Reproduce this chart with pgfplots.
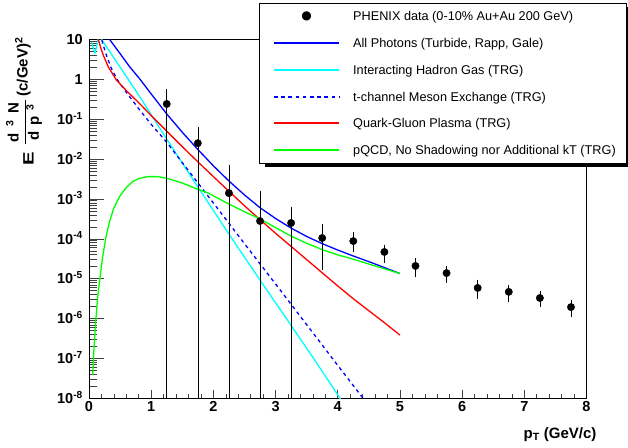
\documentclass[border=0pt]{standalone}
\usepackage{fontspec}
\setmainfont{Liberation Sans}
\newfontfamily\symfont{DejaVu Sans}
\usepackage{pgfplots}
\pgfplotsset{compat=1.18}

\definecolor{rblue}{RGB}{0,0,255}
\definecolor{rcyan}{RGB}{0,255,255}
\definecolor{rred}{RGB}{255,0,0}
\definecolor{rgreen}{RGB}{0,255,0}

\newcommand\tickfont{\fontsize{14.5}{16}\selectfont\bfseries}
\newcommand\legfont{\fontsize{12.7}{14}\selectfont}
\newcommand\labfont{\fontsize{15}{17}\selectfont\bfseries}

\pgfplotsset{
  curve/.style={line width=1.3pt, forget plot},
}

\begin{document}
\begin{tikzpicture}
\begin{axis}[
  width=497.5pt, height=359.2pt, scale only axis,
  xmin=0, xmax=8, ymode=log, ymin=1e-8, ymax=10,
  axis line style={black, line width=0.8pt},
  tick pos=left, tick align=inside,
  xtick={0,1,...,8}, minor x tick num=4,
  ytick={1e-8,1e-7,1e-6,1e-5,1e-4,1e-3,1e-2,1e-1,1,10},
  yticklabels={10\textsuperscript{-8},10\textsuperscript{-7},10\textsuperscript{-6},10\textsuperscript{-5},10\textsuperscript{-4},10\textsuperscript{-3},10\textsuperscript{-2},10\textsuperscript{-1},1,10},
  xtick style={black!75, line width=0.6pt, /pgfplots/major tick length=9pt, /pgfplots/minor tick length=4.5pt},
  ytick style={black!75, line width=0.6pt, /pgfplots/major tick length=15pt, /pgfplots/minor tick length=8pt},
  /pgf/number format/assume math mode=true,
  xticklabel style={font=\tickfont, inner sep=0pt, yshift=-3pt},
  yticklabel style={font=\tickfont, inner sep=0pt, anchor=east, xshift=-6pt, text height=10.4pt, text depth=0pt},
  xlabel={p\textsubscript{T} (GeV/c)},
  xlabel style={at={(axis description cs:0.9467,-0.1108)}, anchor=base, font=\labfont},
  ylabel={\scalebox{1.35}[1]{E}\hspace{8pt}\raisebox{5pt}{\setlength\arrayrulewidth{1.2pt}\begin{tabular}{@{\hspace{2pt}}c@{\hspace{2pt}}}\makebox[40pt][s]{d\hfill\textsuperscript{3}\hfill N}\\[1pt]\hline\rule{0pt}{13pt}\makebox[36pt][s]{d\hfill p\hfill\textsuperscript{3}}\end{tabular}}\hspace{4pt}\raisebox{6pt}{(c/GeV)\textsuperscript{2}}},
  ylabel style={at={(axis description cs:-0.1286,0.826)}, anchor=center, font=\labfont},
]

% all photons
\addplot[rblue, curve] table {
x y
0.20 17.8
0.33 10.0
0.50 4.37
0.65 2.09
0.82 1.00
1.00 0.427
1.25 0.135
1.50 0.0468
1.75 0.0174
2.00 6.76e-3
2.25 2.82e-3
2.50 1.26e-3
2.75 6.03e-4
3.00 3.24e-4
3.25 1.86e-4
3.50 1.15e-4
3.75 7.59e-5
4.00 5.25e-5
4.25 3.72e-5
4.50 2.69e-5
4.75 1.91e-5
5.00 1.35e-5
};

% hadron gas
\addplot[rcyan, curve] table {
x y
0.04 8.51
0.07 6.03
0.095 4.57
0.12 6.31
0.15 10.5
0.175 12.0
0.20 10.0
0.30 5.89
0.50 2.00
0.75 0.525
1.00 0.129
1.25 0.0316
1.50 7.94e-3
1.75 2.00e-3
2.00 5.13e-4
2.25 1.32e-4
2.50 3.47e-5
2.75 9.33e-6
3.00 2.51e-6
3.25 6.76e-7
3.50 1.82e-7
3.75 4.79e-8
4.00 1.23e-8
4.10 7.08e-9
};

% t-channel meson exchange
\addplot[rblue, curve, dash pattern=on 3.5pt off 3.5pt] table {
x y
0.18 14.1
0.22 7.94
0.28 3.98
0.36 1.86
0.45 1.00
0.60 0.468
0.80 0.182
1.00 0.0741
1.25 0.0263
1.50 8.13e-3
2.00 7.94e-4
2.50 7.59e-5
3.00 7.41e-6
3.50 7.08e-7
4.00 6.76e-8
4.45 8.32e-9
};

% QGP
\addplot[rred, curve] table {
x y
0.12 20.0
0.15 10.0
0.19 6.03
0.23 3.98
0.31 2.04
0.44 0.955
0.61 0.501
0.82 0.240
1.00 0.123
1.25 0.0501
1.50 0.0204
1.75 8.51e-3
2.00 3.63e-3
2.25 1.55e-3
2.50 6.76e-4
2.75 3.02e-4
3.00 1.38e-4
3.25 6.46e-5
3.50 3.02e-5
3.75 1.41e-5
4.00 6.61e-6
4.25 3.16e-6
4.50 1.58e-6
4.75 7.94e-7
5.00 3.89e-7
};

% pQCD
\addplot[rgreen, curve] table {
x y
0.06 3.89e-8
0.08 1.78e-7
0.11 9.33e-7
0.14 3.55e-6
0.18 1.17e-5
0.22 3.55e-5
0.27 1.05e-4
0.33 2.69e-4
0.40 6.03e-4
0.50 1.20e-3
0.60 1.95e-3
0.70 2.69e-3
0.80 3.24e-3
0.95 3.63e-3
1.10 3.63e-3
1.25 3.31e-3
1.50 2.51e-3
1.75 1.74e-3
1.90 1.45e-3
2.00 1.20e-3
2.25 7.41e-4
2.50 4.79e-4
2.75 3.16e-4
3.00 1.91e-4
3.25 1.17e-4
3.50 7.76e-5
3.75 5.37e-5
4.00 3.98e-5
4.25 3.09e-5
4.50 2.34e-5
4.75 1.78e-5
5.00 1.35e-5
};

% lower halves of the large error bars (run below the axis)
\addplot[black, line width=0.6pt, forget plot] coordinates {(1.25,1e-9) (1.25,0.24)};
\addplot[black, line width=0.6pt, forget plot] coordinates {(1.75,1e-9) (1.75,0.025)};
\addplot[black, line width=0.6pt, forget plot] coordinates {(2.25,1e-9) (2.25,1.4e-3)};
\addplot[black, line width=0.6pt, forget plot] coordinates {(2.75,1e-9) (2.75,2.8e-4)};
\addplot[black, line width=0.6pt, forget plot] coordinates {(3.25,1e-9) (3.25,2.5e-4)};

% PHENIX data
\addplot[black, only marks, mark=*, mark size=3.7pt, forget plot,
  error bars/.cd, y dir=both, y explicit,
  error bar style={black, line width=0.6pt},
  error mark options={black, mark size=2.5pt, line width=0.6pt}]
  table[x=x, y=y, y error plus=ep, y error minus=em] {
x y ep em
1.25 0.24 0.26 0
1.75 0.025 0.029 0
2.25 1.4e-3 4.9e-3 0
2.75 2.8e-4 1.12e-3 0
3.25 2.5e-4 3.1e-4 0
3.75 1.05e-4 0.95e-4 0.86e-4
4.25 8.8e-5 3.7e-5 3.3e-5
4.75 4.7e-5 1.5e-5 1.75e-5
5.25 2.1e-5 0.7e-5 0.8e-5
5.75 1.39e-5 0.47e-5 0.46e-5
6.25 5.9e-6 2.4e-6 2.2e-6
6.75 4.7e-6 1.2e-6 1.6e-6
7.25 3.3e-6 1.1e-6 1.0e-6
7.75 1.95e-6 0.65e-6 0.65e-6
};
\end{axis}

% legend box (ROOT style, with shadow), laid out in pt from the axis corner
\begin{scope}[shift={(current axis.south west)}, x=1pt, y=1pt]
  \fill[black] (176,231.5) rectangle (543,235.5);
  \fill[black] (537,231.5) rectangle (543,391.5);
  \fill[white] (170,235.5) rectangle (537,395.5);
  \draw[black, line width=0.8pt] (170,235.5) rectangle (537,395.5);
  \node[inner sep=0pt] at (217.7,382.5) {\symfont\fontsize{12}{12}\selectfont ●};
  \draw[rblue, line width=1.3pt] (185,355.5) -- (250,355.5);
  \draw[rcyan, line width=1.3pt] (185,328.5) -- (250,328.5);
  \draw[rblue, line width=1.3pt, dash pattern=on 3.6pt off 3.6pt] (185,301.5) -- (250,301.5);
  \draw[rred, line width=1.3pt] (185,275.5) -- (250,275.5);
  \draw[rgreen, line width=1.3pt] (185,248.5) -- (250,248.5);
  \begin{scope}[every node/.style={anchor=base west, inner sep=0pt, font=\legfont}]
    \node at (264,378) {PHENIX data (0-10\% Au+Au 200 GeV)};
    \node at (264,351) {All Photons (Turbide, Rapp, Gale)};
    \node at (264,324) {Interacting Hadron Gas (TRG)};
    \node at (264,297) {t-channel Meson Exchange (TRG)};
    \node at (264,271) {Quark-Gluon Plasma (TRG)};
    \node at (264,244) {pQCD, No Shadowing nor Additional kT (TRG)};
  \end{scope}
\end{scope}
\pgfresetboundingbox
\path ([shift={(-89pt,-48.5pt)}]current axis.south west) rectangle ([shift={(41.5pt,39.3pt)}]current axis.north east);
\end{tikzpicture}
\end{document}
